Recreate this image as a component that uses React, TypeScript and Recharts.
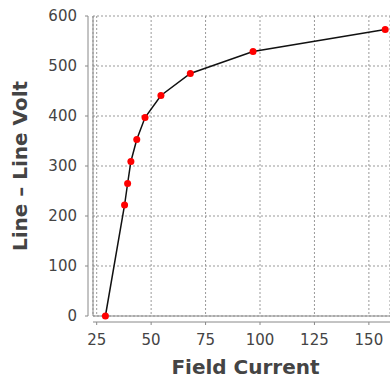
import React from "react";
import {
  LineChart,
  Line,
  XAxis,
  YAxis,
  CartesianGrid,
  Customized,
} from "recharts";

const fieldCurrent = [29, 37.8, 39.2, 40.7, 43.4, 47.2, 54.5, 68, 96.8, 157.5];
const lineVolt = [0, 222, 265, 309, 353, 397, 441, 485, 529, 573];
const xTicks = [25, 50, 75, 100, 125, 150];
const yTicks = [0, 100, 200, 300, 400, 500, 600];

const data = fieldCurrent.map((x, i) => ({ x, y: lineVolt[i] }));

const W = 390;
const H = 383;
const LEFT = 93;
const TOP = 16;
const BOTTOM = 316;

const AXIS = "#888";
const TEXT = "#444";
const FONT = "'DejaVu Sans', sans-serif";

const YTick = (props: any) => {
  const { x, y, payload } = props;
  return (
    <g>
      <line x1={x - 8} x2={x - 5} y1={y} y2={y} stroke={AXIS} />
      <text x={x - 16} y={y} dy={5} textAnchor="end" fill={TEXT} fontSize={15} fontFamily={FONT}>
        {payload.value}
      </text>
    </g>
  );
};

const XTick = (props: any) => {
  const { x, y, payload } = props;
  return (
    <g>
      <line x1={x} x2={x} y1={y + 6} y2={y + 9} stroke={AXIS} />
      <text x={x} y={y + 29} textAnchor="middle" fill={TEXT} fontSize={15} fontFamily={FONT}>
        {payload.value}
      </text>
    </g>
  );
};

const Frame = () => (
  <g>
    <line x1={LEFT} x2={LEFT} y1={TOP} y2={BOTTOM} stroke={AXIS} />
    <line x1={LEFT} x2={W} y1={BOTTOM} y2={BOTTOM} stroke={AXIS} />
    <line x1={LEFT - 5} x2={LEFT - 5} y1={TOP} y2={BOTTOM} stroke={AXIS} />
    <line x1={LEFT} x2={W} y1={BOTTOM + 6} y2={BOTTOM + 6} stroke={AXIS} />
  </g>
);

const YLabel = (props: any) => {
  const { viewBox } = props;
  const cx = 20;
  const cy = viewBox.y + viewBox.height / 2;
  return (
    <text
      x={cx}
      y={cy}
      transform={`rotate(-90 ${cx} ${cy})`}
      textAnchor="middle"
      dominantBaseline="central"
      fill={TEXT}
      fontSize={20}
      fontWeight="bold"
      fontFamily={FONT}
    >
      Line – Line Volt
    </text>
  );
};

export default function App() {
  return (
    <div style={{ position: "absolute", left: 0, top: 0, width: W, height: H, background: "#fff" }}>
      <LineChart width={W} height={H} data={data} margin={{ top: TOP, right: 0, bottom: 0, left: 0 }}>
        <CartesianGrid stroke="#999" strokeDasharray="2 2" />
        <XAxis
          dataKey="x"
          type="number"
          domain={[23.3, 159.7]}
          ticks={xTicks}
          allowDataOverflow
          height={H - BOTTOM}
          axisLine={false}
          tickLine={false}
          tickSize={0}
          tickMargin={0}
          tick={<XTick />}
          label={{
            value: "Field Current",
            position: "insideBottom",
            offset: 9,
            dx: 4,
            fill: TEXT,
            fontSize: 20,
            fontWeight: "bold",
            fontFamily: FONT,
          }}
        />
        <YAxis
          dataKey="y"
          type="number"
          domain={[0, 600]}
          ticks={yTicks}
          width={LEFT}
          axisLine={false}
          tickLine={false}
          tickSize={0}
          tickMargin={0}
          tick={<YTick />}
          label={<YLabel />}
        />
        <Customized component={Frame} />
        <Line
          type="linear"
          dataKey="y"
          stroke="#111"
          strokeWidth={1.5}
          dot={{ r: 3.5, fill: "#ff0000", stroke: "#ff0000", strokeWidth: 0 }}
          activeDot={false}
          isAnimationActive={false}
        />
      </LineChart>
    </div>
  );
}
